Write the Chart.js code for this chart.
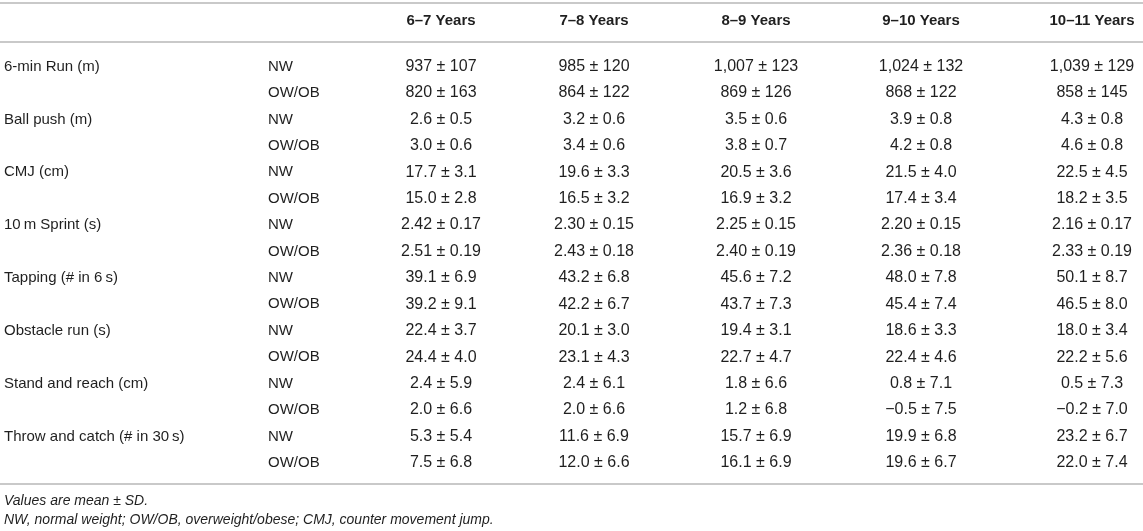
<!DOCTYPE html>
<html>
<head>
<meta charset="utf-8">
<script src="https://cdn.jsdelivr.net/npm/chart.js@4.4.1/dist/chart.umd.min.js"></script>
<style>
  html, body { margin: 0; padding: 0; background: #fff; }
  #wrap { width: 1143px; height: 531px; }
</style>
</head>
<body>
<div id="wrap"><canvas id="table"></canvas></div>
<script>
// table content
var ageGroups = ["6\u20137 Years", "7\u20138 Years", "8\u20139 Years", "9\u201310 Years", "10\u201311 Years"];
var measures = [
  "6-min Run (m)", "Ball push (m)", "CMJ (cm)", "10\u2009m Sprint (s)",
  "Tapping (# in 6\u2009s)", "Obstacle run (s)", "Stand and reach (cm)", "Throw and catch (# in 30\u2009s)"
];
var groups = ["NW", "OW/OB"];
var decimals = [0, 1, 1, 2, 1, 1, 1, 1];

var meanNW = [
  [937, 985, 1007, 1024, 1039],
  [2.6, 3.2, 3.5, 3.9, 4.3],
  [17.7, 19.6, 20.5, 21.5, 22.5],
  [2.42, 2.30, 2.25, 2.20, 2.16],
  [39.1, 43.2, 45.6, 48.0, 50.1],
  [22.4, 20.1, 19.4, 18.6, 18.0],
  [2.4, 2.4, 1.8, 0.8, 0.5],
  [5.3, 11.6, 15.7, 19.9, 23.2]
];
var sdNW = [
  [107, 120, 123, 132, 129],
  [0.5, 0.6, 0.6, 0.8, 0.8],
  [3.1, 3.3, 3.6, 4.0, 4.5],
  [0.17, 0.15, 0.15, 0.15, 0.17],
  [6.9, 6.8, 7.2, 7.8, 8.7],
  [3.7, 3.0, 3.1, 3.3, 3.4],
  [5.9, 6.1, 6.6, 7.1, 7.3],
  [5.4, 6.9, 6.9, 6.8, 6.7]
];
var meanOW = [
  [820, 864, 869, 868, 858],
  [3.0, 3.4, 3.8, 4.2, 4.6],
  [15.0, 16.5, 16.9, 17.4, 18.2],
  [2.51, 2.43, 2.40, 2.36, 2.33],
  [39.2, 42.2, 43.7, 45.4, 46.5],
  [24.4, 23.1, 22.7, 22.4, 22.2],
  [2.0, 2.0, 1.2, -0.5, -0.2],
  [7.5, 12.0, 16.1, 19.6, 22.0]
];
var sdOW = [
  [163, 122, 126, 122, 145],
  [0.6, 0.6, 0.7, 0.8, 0.8],
  [2.8, 3.2, 3.2, 3.4, 3.5],
  [0.19, 0.18, 0.19, 0.18, 0.19],
  [9.1, 6.7, 7.3, 7.4, 8.0],
  [4.0, 4.3, 4.7, 4.6, 5.6],
  [6.6, 6.6, 6.8, 7.5, 7.0],
  [6.8, 6.6, 6.9, 6.7, 7.4]
];
var footnotes = [
  "Values are mean \u00b1 SD.",
  "NW, normal weight; OW/OB, overweight/obese; CMJ, counter movement jump."
];

// layout (x in px at native size, y in row units on the y scale)
var labelX = 4, groupX = 268;
var colCenters = [441, 594, 756, 921, 1092];
var headerRow = -1.73, ruleRows = [-2.41, -0.93, 15.8], noteRows = [16.44, 17.16];
var textColor = "#1f1f1f", ruleColor = "#c9c9c9";
var fontFamily = "'Liberation Sans', Arial, Helvetica, sans-serif";

function fmt(v, d) {
  var s = Math.abs(v).toLocaleString("en-US", { minimumFractionDigits: d, maximumFractionDigits: d });
  return (v < 0 ? "\u2212" : "") + s;
}

var cells = [];
function cell(x, y, text, align, font) {
  cells.push({ x: x, y: y, text: text, align: align, font: font });
}

var labelFont = "15px " + fontFamily;
var valueFont = "16px " + fontFamily;
ageGroups.forEach(function (a, c) { cell(colCenters[c], headerRow, a, "center", "bold 15px " + fontFamily); });
measures.forEach(function (m, i) {
  var r = i * 2;
  cell(labelX, r, m, "left", labelFont);
  cell(groupX, r, groups[0], "left", labelFont);
  cell(groupX, r + 1, groups[1], "left", labelFont);
  for (var c = 0; c < ageGroups.length; c++) {
    cell(colCenters[c], r, fmt(meanNW[i][c], decimals[i]) + " \u00b1 " + fmt(sdNW[i][c], decimals[i]), "center", valueFont);
    cell(colCenters[c], r + 1, fmt(meanOW[i][c], decimals[i]) + " \u00b1 " + fmt(sdOW[i][c], decimals[i]), "center", valueFont);
  }
});
footnotes.forEach(function (t, i) { cell(labelX, noteRows[i], t, "left", "italic 14px " + fontFamily); });

var datasets = ruleRows.map(function (ry) {
  return {
    type: "line",
    data: [{ x: 0, y: ry }, { x: 1143, y: ry }],
    borderColor: ruleColor,
    borderWidth: 2,
    pointRadius: 0
  };
});
datasets.push({ type: "scatter", isText: true, data: cells, pointRadius: 0 });

var cellText = {
  id: "cellText",
  afterDatasetsDraw: function (chart) {
    var ctx = chart.ctx;
    chart.data.datasets.forEach(function (ds, di) {
      if (!ds.isText) return;
      var meta = chart.getDatasetMeta(di);
      ctx.save();
      ctx.fillStyle = textColor;
      ctx.textBaseline = "middle";
      meta.data.forEach(function (pt, i) {
        var d = ds.data[i];
        ctx.font = d.font;
        ctx.textAlign = d.align;
        ctx.fillText(d.text, pt.x, pt.y);
      });
      ctx.restore();
    });
  }
};

new Chart(document.getElementById("table"), {
  type: "scatter",
  data: { datasets: datasets },
  options: {
    responsive: true,
    maintainAspectRatio: false,
    animation: false,
    events: [],
    layout: { padding: 0 },
    plugins: { legend: { display: false }, tooltip: { enabled: false } },
    scales: {
      x: { type: "linear", min: 0, max: 1143, display: false },
      y: { type: "linear", reverse: true, min: -2.52, max: 17.58, display: false }
    }
  },
  plugins: [cellText]
});
</script>
</body>
</html>
